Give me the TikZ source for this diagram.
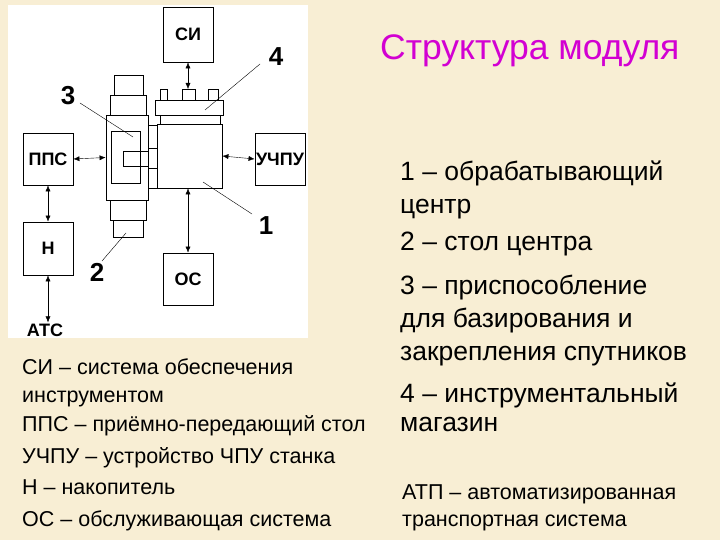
\documentclass[tikz,border=0pt]{standalone}
\usepackage{fontspec}
\usetikzlibrary{arrows.meta}
\setmainfont{Liberation Sans}
\begin{document}
\begin{tikzpicture}[x=1pt,y=-1pt,
  blk/.style={draw,thick,fill=white},
  lbl/.style={font=\fontsize{18}{20}\selectfont\bfseries},
  num/.style={font=\fontsize{26}{28}\selectfont\bfseries},
  arr/.style={{Latex[length=6pt,width=5pt]}-{Latex[length=6pt,width=5pt]},thin},
  lead/.style={thin},
  rt/.style={anchor=base west,inner sep=0pt,font=\fontsize{26.5}{30}\selectfont},
  lt/.style={anchor=base west,inner sep=0pt,font=\fontsize{21.5}{24}\selectfont}]
\fill[fill={rgb,255:red,248;green,238;blue,212}] (0,0) rectangle (720,540);
\useasboundingbox (0,0) rectangle (720,540);
\fill[white] (8,5) rectangle (308,338);
% boxes
\node[blk,lbl,minimum width=50pt,minimum height=55pt] (si) at (188,34.5) {СИ};
\node[blk,lbl,minimum width=50pt,minimum height=52pt] (pps) at (48,159) {ППС};
\node[blk,lbl,minimum width=50pt,minimum height=52pt,inner sep=0pt] (uchpu) at (280,159) {УЧПУ};
\node[blk,lbl,minimum width=50pt,minimum height=53pt] (n) at (48,248.5) {Н};
\node[blk,lbl,minimum width=50pt,minimum height=52pt] (os) at (188,279) {ОС};
\node[lbl,inner sep=1pt] (ats) at (45,330) {АТС};
% machine
\draw[thick] (160,89) rectangle (167,100) (182,89) rectangle (195,100) (208,89) rectangle (218,100);
\node[blk,minimum width=68pt,minimum height=15pt] (mag) at (189,107.5) {};
\draw[thick] (160,115) rectangle (220,124);
\draw[thick] (148,125) rectangle (157,188);
\node[blk,minimum width=65pt,minimum height=64pt] (mach) at (189.5,156) {};
% column
\draw[thick] (114,75) rectangle (143,95) (110,95) rectangle (146,115);
\node[blk,minimum width=42pt,minimum height=85pt] (frame) at (127,157.5) {};
\draw[thick] (111,131) rectangle (140,183);
\draw[thick] (110,200) rectangle (146,220) (113,220) rectangle (143,237);
\draw[thick] (148,148) rectangle (157,168);
\draw[thick] (123,151) rectangle (148,166);
% arrows
\draw[arr] (pps.east) -- (frame.west);
\draw[arr] (mach.east) -- (uchpu.west);
\draw[arr] (si.south) -- (188,89);
\draw[arr] (os.north) -- (mach.south-|os.north);
\draw[arr] (pps.south) -- (n.north);
\draw[arr] (n.south) -- (ats.north-|n.south);
% numbers and leaders
\node[num] (n4) at (276,57) {4}; \draw[lead] (260,64) -- (205,110);
\node[num] (n3) at (68,96) {3}; \draw[lead] (80,103) -- (133,137);
\node[num] (n1) at (266,226) {1}; \draw[lead] (252,214) -- (203,182);
\node[num] (n2) at (97,272) {2}; \draw[lead] (102,261) -- (126,233);
% title
\node[anchor=base west,inner sep=0pt,font=\fontsize{35.5}{40}\selectfont,text={rgb,255:red,210;green,0;blue,210}] (title) at (380,60) {Структура модуля};
% right text
\node[rt] (r1) at (400,181) {1 – обрабатывающий};
\node[rt] (r2) at (400,214) {центр};
\node[rt] (r3) at (400,251) {2 – стол центра};
\node[rt] (r4) at (400,294) {3 – приспособление};
\node[rt] (r5) at (400,327) {для базирования и};
\node[rt] (r6) at (400,360) {закрепления спутников};
\node[rt] (r7) at (400,402) {4 – инструментальный};
\node[rt] (r8) at (400,431) {магазин};
\node[lt] (b1) at (402,499) {АТП – автоматизированная};
\node[lt] (b2) at (402,526) {транспортная система};
% left text
\node[lt] (l1) at (22,374) {СИ – система обеспечения};
\node[lt] (l2) at (22,402) {инструментом};
\node[lt] (l3) at (22,431) {ППС – приёмно-передающий стол};
\node[lt] (l4) at (22,463) {УЧПУ – устройство ЧПУ станка};
\node[lt] (l5) at (22,494) {Н – накопитель};
\node[lt] (l6) at (22,526) {ОС – обслуживающая система};
\end{tikzpicture}
\end{document}
